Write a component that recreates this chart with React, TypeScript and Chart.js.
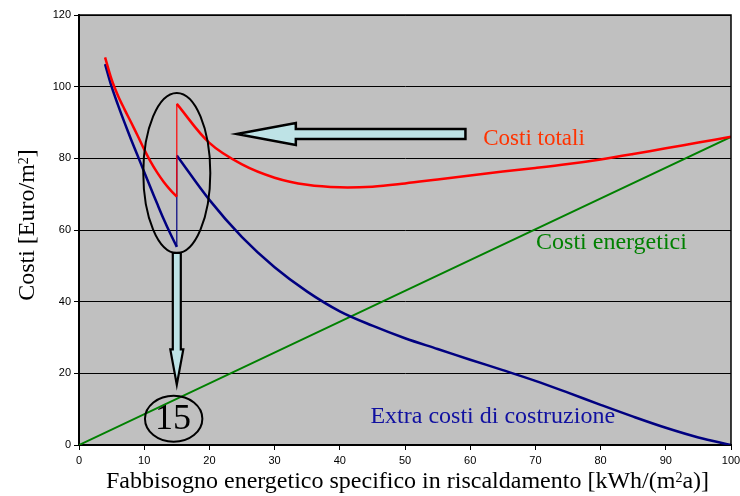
import React, { useEffect, useRef } from "react";
import { Chart, registerables } from "chart.js";

Chart.register(...registerables);

// ---- data ----
const xSeg1 = [4, 5, 6, 7, 8, 9, 10, 11, 12, 13, 14, 15];
const totalSeg1 = [108.2, 102, 97.4, 93.6, 90, 86.3, 82.5, 79, 76, 73.4, 71.2, 69.3];
const extraSeg1 = [106.3, 100, 94.8, 89.9, 85.2, 80.7, 76.2, 71.7, 67.3, 63, 59, 55.3];

const xSeg2 = [15, 20, 25, 30, 35, 40, 45, 50, 55, 60, 65, 70, 75, 80, 85, 90, 95, 100];
const totalSeg2 = [95.2, 84.3, 78.3, 74.6, 72.6, 71.9, 72.1, 73, 74.1, 75.2, 76.3, 77.3, 78.4, 79.7, 81.2, 82.8, 84.4, 86];
const extraSeg2 = [80.8, 68.4, 58, 49.6, 42.8, 37.3, 33.3, 29.8, 26.8, 23.8, 20.9, 17.9, 14.6, 11.2, 7.9, 4.8, 2.1, 0];

const xEnergy = [0, 100];
const energy = [0, 86];

const xTicks = { min: 0, max: 100, step: 10 };
const yTicks = { min: 0, max: 120, step: 20 };

const labelTotal = "Costi totali";
const labelEnergy = "Costi energetici";
const labelExtra = "Extra costi di costruzione";
const xTitleMain = "Fabbisogno energetico specifico in riscaldamento [kWh/(m";
const xTitleSup = "2";
const xTitleEnd = "a)]";
const yTitleMain = "Costi [Euro/m";
const yTitleSup = "2";
const yTitleEnd = "]";
const markValue = "15";

const pts = (xs: number[], ys: number[]) => xs.map((x, i) => ({ x, y: ys[i] }));

const RED = "#FF0000";
const NAVY = "#000080";
const GREEN = "#008000";
const SERIF = "'Liberation Serif', 'Times New Roman', serif";
const ARROW_FILL = "#BEE3E6";

const bgPlugin = {
  id: "bg",
  beforeDraw(chart: any) {
    const { ctx, chartArea: a } = chart;
    ctx.save();
    ctx.fillStyle = "#FFFFFF";
    ctx.fillRect(0, 0, chart.width, chart.height);
    ctx.fillStyle = "#C0C0C0";
    ctx.fillRect(a.left, a.top, a.right - a.left, a.bottom - a.top);
    ctx.restore();
  },
};

const annotPlugin = {
  id: "annot",
  afterDatasetsDraw(chart: any) {
    const { ctx } = chart;
    const xs = chart.scales.x;
    const ys = chart.scales.y;
    const px = (v: number) => xs.getPixelForValue(v);
    const py = (v: number) => ys.getPixelForValue(v);
    ctx.save();

    // ellipse around the jump
    ctx.strokeStyle = "#000";
    ctx.lineWidth = 2;
    ctx.beginPath();
    ctx.ellipse(px(15), py(75.9), 33.5, 80, 0, 0, Math.PI * 2);
    ctx.stroke();

    // left arrow
    const ay = py(86.8);
    const tipX = px(23.9) + 2;
    const baseX = tipX + 59;
    const tailX = px(59.5) - 1.5;
    ctx.beginPath();
    ctx.moveTo(tipX, ay);
    ctx.lineTo(baseX, ay - 11);
    ctx.lineTo(baseX, ay - 5);
    ctx.lineTo(tailX, ay - 5);
    ctx.lineTo(tailX, ay + 5);
    ctx.lineTo(baseX, ay + 5);
    ctx.lineTo(baseX, ay + 11);
    ctx.closePath();
    ctx.fillStyle = ARROW_FILL;
    ctx.fill();
    ctx.lineWidth = 2.5;
    ctx.lineJoin = "miter";
    ctx.stroke();

    // down arrow
    const dx = px(15);
    const topY = py(53.6);
    const headY = py(26.7);
    const tipY = py(16.3) - 2;
    ctx.beginPath();
    ctx.moveTo(dx - 4, topY);
    ctx.lineTo(dx + 4, topY);
    ctx.lineTo(dx + 4, headY);
    ctx.lineTo(dx + 6.5, headY);
    ctx.lineTo(dx, tipY);
    ctx.lineTo(dx - 6.5, headY);
    ctx.lineTo(dx - 4, headY);
    ctx.closePath();
    ctx.fillStyle = ARROW_FILL;
    ctx.fill();
    ctx.lineWidth = 2.2;
    ctx.stroke();

    // circle with 15
    ctx.lineWidth = 2;
    ctx.beginPath();
    ctx.ellipse(px(14.52), py(7.34), 28.7, 23, 0, 0, Math.PI * 2);
    ctx.stroke();
    ctx.fillStyle = "#000";
    ctx.font = `36px ${SERIF}`;
    ctx.textAlign = "center";
    ctx.textBaseline = "alphabetic";
    ctx.fillText(markValue, px(14.4), py(4.6));

    // series labels
    ctx.textAlign = "left";
    ctx.font = `23px ${SERIF}`;
    ctx.fillStyle = "#FF3300";
    ctx.fillText(labelTotal, px(62.0), py(83.7));
    ctx.font = `24px ${SERIF}`;
    ctx.fillStyle = GREEN;
    ctx.fillText(labelEnergy, px(70.1), py(54.6));
    ctx.fillStyle = "#1010A0";
    ctx.fillText(labelExtra, px(44.7), py(6.05));
    ctx.restore();
  },
  afterDraw(chart: any) {
    const { ctx, chartArea: a } = chart;
    ctx.save();
    // top & right frame
    ctx.strokeStyle = "#000";
    ctx.lineWidth = 1.5;
    ctx.beginPath();
    ctx.moveTo(a.left, a.top);
    ctx.lineTo(a.right, a.top);
    ctx.lineTo(a.right, a.bottom);
    ctx.stroke();

    ctx.fillStyle = "#000";
    ctx.textBaseline = "alphabetic";
    ctx.textAlign = "left";
    // x title
    const mainF = `24px ${SERIF}`;
    const supF = `14px ${SERIF}`;
    ctx.font = mainF;
    const w1 = ctx.measureText(xTitleMain).width;
    const w3 = ctx.measureText(xTitleEnd).width;
    ctx.font = supF;
    const w2 = ctx.measureText(xTitleSup).width;
    const total = w1 + w2 + w3;
    const x0 = (a.left + a.right) / 2 + 2.5 - total / 2;
    const base = 488;
    ctx.font = mainF;
    ctx.fillText(xTitleMain, x0, base);
    ctx.font = supF;
    ctx.fillText(xTitleSup, x0 + w1, base - 6);
    ctx.font = mainF;
    ctx.fillText(xTitleEnd, x0 + w1 + w2, base);

    // y title (rotated)
    ctx.font = mainF;
    const v1 = ctx.measureText(yTitleMain).width;
    const v3 = ctx.measureText(yTitleEnd).width;
    ctx.font = supF;
    const v2 = ctx.measureText(yTitleSup).width;
    const vt = v1 + v2 + v3;
    ctx.translate(34, 225);
    ctx.rotate(-Math.PI / 2);
    const s0 = -vt / 2;
    ctx.font = mainF;
    ctx.fillText(yTitleMain, s0, 0);
    ctx.font = supF;
    ctx.fillText(yTitleSup, s0 + v1, -6);
    ctx.font = mainF;
    ctx.fillText(yTitleEnd, s0 + v1 + v2, 0);
    ctx.restore();
  },
};

export default function App() {
  const ref = useRef<HTMLCanvasElement>(null);
  useEffect(() => {
    const canvas = ref.current;
    if (!canvas) return;
    const line = (data: any[], color: string, width: number, order: number) => ({
      data,
      showLine: true,
      borderColor: color,
      backgroundColor: color,
      borderWidth: width,
      pointRadius: 0,
      pointHoverRadius: 0,
      tension: 0.35,
      fill: false,
      order,
    });
    const n1 = xSeg1.length - 1;
    const zeroPad = (s: any) => {
      s.paddingLeft = 0;
      s.paddingRight = 0;
      s.paddingTop = 0;
      s.paddingBottom = 0;
    };
    const chart = new Chart(canvas, {
      type: "scatter",
      data: {
        datasets: [
          line(pts(xEnergy, energy), GREEN, 2, 5),
          line(pts(xSeg1, extraSeg1), NAVY, 2.5, 3),
          line(pts(xSeg2, extraSeg2), NAVY, 2.5, 3),
          line([{ x: xSeg1[n1], y: extraSeg1[n1] }, { x: xSeg2[0], y: extraSeg2[0] }], NAVY, 1.2, 4),
          line(pts(xSeg1, totalSeg1), RED, 2.5, 1),
          line(pts(xSeg2, totalSeg2), RED, 2.5, 1),
          line([{ x: xSeg1[n1], y: totalSeg1[n1] }, { x: xSeg2[0], y: totalSeg2[0] }], RED, 1.2, 2),
        ] as any,
      },
      options: {
        animation: false,
        responsive: false,
        events: [],
        layout: { padding: { left: 0, right: 9, top: 15, bottom: 0 }, autoPadding: false } as any,
        plugins: { legend: { display: false }, tooltip: { enabled: false }, title: { display: false } },
        scales: {
          x: {
            type: "linear",
            min: xTicks.min,
            max: xTicks.max,
            afterFit: (s: any) => { s.height = 51; zeroPad(s); },
            ticks: {
              stepSize: xTicks.step,
              color: "#000",
              font: { family: "'Liberation Sans', Arial, sans-serif", size: 11 },
              padding: 4,
              maxRotation: 0,
            },
            grid: { drawOnChartArea: false, drawTicks: true, tickLength: 5, color: "#000", lineWidth: 1 },
            border: { color: "#000", width: 2 },
          },
          y: {
            type: "linear",
            min: yTicks.min,
            max: yTicks.max,
            afterFit: (s: any) => { s.width = 79; zeroPad(s); },
            ticks: {
              stepSize: yTicks.step,
              color: "#000",
              font: { family: "'Liberation Sans', Arial, sans-serif", size: 11 },
              padding: 3,
            },
            grid: { drawOnChartArea: true, drawTicks: true, tickLength: 5, color: "#000", lineWidth: 1 },
            border: { color: "#000", width: 2 },
          },
        },
      } as any,
      plugins: [bgPlugin, annotPlugin],
    });
    return () => chart.destroy();
  }, []);
  return (
    <div style={{ position: "absolute", left: 0, top: 0, width: 740, height: 496 }}>
      <canvas ref={ref} width={740} height={496} style={{ display: "block" }} />
    </div>
  );
}
